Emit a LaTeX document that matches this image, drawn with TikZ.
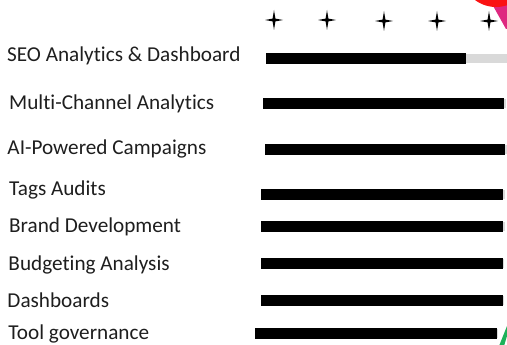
\documentclass[tikz,border=0pt]{standalone}
\usepackage{fontspec}
\setmainfont[Ligatures=NoCommon]{Carlito}
\usetikzlibrary{positioning}

\definecolor{trackgray}{RGB}{217,217,217}
\definecolor{blobred}{RGB}{250,18,18}
\definecolor{blobpink}{RGB}{222,40,128}
\definecolor{leafgreen}{RGB}{30,178,90}
\definecolor{inktext}{RGB}{30,30,30}

\begin{document}
\begin{tikzpicture}[x=1pt,y=-1pt,
   skill/.style={anchor=base west,inner sep=0pt,text=inktext,font=\fontsize{21.2}{25}\selectfont},
   sparkle/.pic={\fill (0,-10) -- (1.4,-1.4) -- (9,0) -- (1.4,1.4) -- (0,10)
                  -- (-1.4,1.4) -- (-9,0) -- (-1.4,-1.4) -- cycle;}]
   \useasboundingbox (0,0) rectangle (507,345);
   \clip (0,0) rectangle (507,345);

   % corner decorations
   \fill[blobpink] (492,4) -- (506,29) -- (510,29) -- (510,0) -- cycle;
   \fill[blobred] (496,-28) circle (35);
   \fill[leafgreen] (499,346) -- (507,326) -- (510,326) -- (504,346) -- cycle;

   % rating stars
   \foreach \sx/\sy in {274/20,327/20,384/21,437/21,489/21}
      \pic at (\sx,\sy) {sparkle};

   % skills and bars
   \foreach \i/\txt/\tx/\ty/\bt/\bl/\br/\tr in {
      1/SEO Analytics \& Dashboard/7/61.7/53.5/266/466/510,
      2/Multi-Channel Analytics/9/110/98/263/504/506,
      3/AI-Powered Campaigns/7.3/155/144/265/505/506.5,
      4/Tags Audits/9/196/189.5/261/503/505,
      5/Brand Development/9/232.7/221/261/503/504.5,
      6/Budgeting Analysis/8.3/270/258/261/503/504,
      7/Dashboards/7.3/307.7/295/261/503/504,
      8/Tool governance/8.3/339.3/328/255/497/498}
   {
      \node[skill] (skill\i) at (\tx,\ty) {\txt};
      \fill[trackgray] (\bl,\bt+0.8) rectangle (\tr,\bt+10);
      \fill[black] (\bl,\bt) rectangle (\br,\bt+10.8);
   }
\end{tikzpicture}
\end{document}
